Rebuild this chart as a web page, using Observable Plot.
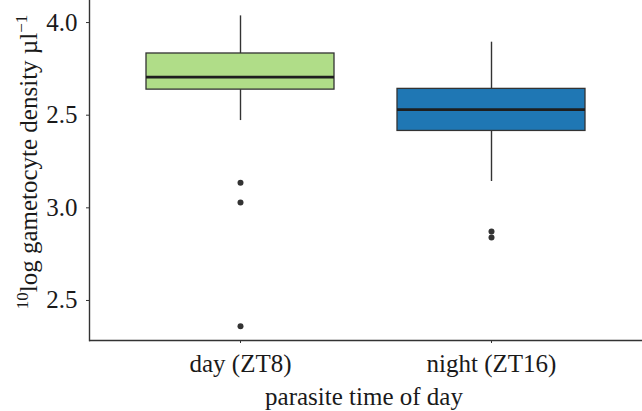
<!DOCTYPE html>
<html><head><meta charset="utf-8">
<script src="https://cdn.jsdelivr.net/npm/d3@7"></script>
<script src="https://cdn.jsdelivr.net/npm/@observablehq/plot@0.6"></script>
<style>body{margin:0;background:#fff} svg{display:block}</style>
</head><body><div id="chart"></div>
<script>
const groups = ["day (ZT8)", "night (ZT16)"];
const whiskerHigh = [4.036, 3.894];
const q3 = [3.833, 3.642];
const medians = [3.705, 3.530];
const q1 = [3.638, 3.415];
const whiskerLow = [3.471, 3.142];
const outlierGroup = ["day (ZT8)", "day (ZT8)", "day (ZT8)", "night (ZT16)", "night (ZT16)"];
const outlierValues = [3.135, 3.029, 2.361, 2.872, 2.840];
const fills = ["#b0dd88", "#1f77b4"];
const yTickValues = [4.0, 3.5, 3.0, 2.5];
const yTickLabels = ["4.0", "2.5", "3.0", "2.5"];
const xTitle = "parasite time of day";
const yTitleSup = "10";
const yTitleMain = "log gametocyte density µl";
const yTitleUnitSup = "−1";
const yDomain = [2.284, 4.119];

const boxes = groups.map((g, i) => ({
  group: g, hi: whiskerHigh[i], q3: q3[i], med: medians[i], q1: q1[i], lo: whiskerLow[i], fill: fills[i]
}));
const outliers = outlierGroup.map((g, i) => ({group: g, value: outlierValues[i]}));

const font = "Liberation Serif";

const plot = Plot.plot({
  width: 642,
  height: 411,
  marginLeft: 89,
  marginRight: 0,
  marginTop: 0,
  marginBottom: 71,
  style: {fontFamily: font, fontSize: "25px", color: "#1a1a1a", background: "#fff"},
  x: {domain: groups, paddingInner: 0.25, paddingOuter: 0.225, label: null},
  y: {domain: yDomain, label: null},
  marks: [
    Plot.axisY({ticks: yTickValues, tickFormat: (d) => yTickLabels[yTickValues.indexOf(d)], tickSize: 3, tickPadding: 9, stroke: "#333", fill: "#1a1a1a", fontSize: 25}),
    Plot.axisX({tickSize: 3, tickPadding: 11, stroke: "#333", fill: "#1a1a1a", fontSize: 25}),
    Plot.ruleX(boxes, {x: "group", y1: "q3", y2: "hi", stroke: "#333", strokeWidth: 1.4}),
    Plot.ruleX(boxes, {x: "group", y1: "q1", y2: "lo", stroke: "#333", strokeWidth: 1.4}),
    Plot.barY(boxes, {x: "group", y1: "q1", y2: "q3", fill: "fill", stroke: "#333", strokeWidth: 1.3}),
    Plot.tickY(boxes, {x: "group", y: "med", stroke: "#1e1e1e", strokeWidth: 2.8}),
    Plot.dot(outliers, {x: "group", y: "value", r: 3, fill: "#333", stroke: "none"}),
    Plot.ruleY([yDomain[0]], {stroke: "#333", strokeWidth: 1.4}),
    Plot.frame({anchor: "left", stroke: "#333", strokeWidth: 1.4})
  ]
});

const svg = d3.select(plot);
svg.append("text")
  .attr("x", 364).attr("y", 405)
  .attr("text-anchor", "middle")
  .attr("font-family", font).attr("font-size", 25).attr("fill", "#1a1a1a")
  .text(xTitle);
const yt = svg.append("text")
  .attr("transform", "translate(37,162) rotate(-90)")
  .attr("text-anchor", "middle")
  .attr("font-family", font).attr("font-size", 25).attr("fill", "#1a1a1a");
yt.append("tspan").attr("font-size", 17).attr("dy", -9).text(yTitleSup);
yt.append("tspan").attr("dy", 9).text(yTitleMain);
yt.append("tspan").attr("font-size", 17).attr("dy", -10).text(yTitleUnitSup);

document.getElementById("chart").appendChild(plot);
</script>
</body></html>
